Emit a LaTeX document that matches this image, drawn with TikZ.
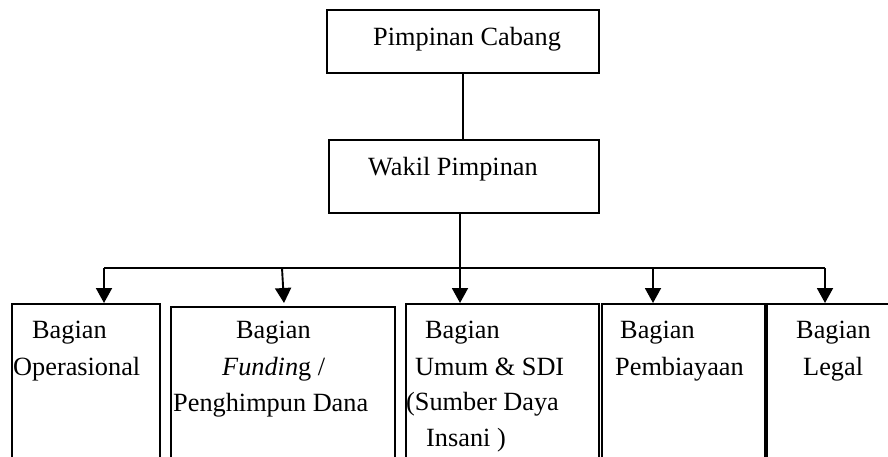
\documentclass[tikz,border=0pt]{standalone}
\usepackage{fontspec}
\setmainfont{Liberation Serif}
\usetikzlibrary{arrows.meta}
\begin{document}
\begin{tikzpicture}[x=1pt,y=-1pt,
  box/.style={draw=black,line width=1.6pt,rectangle,inner sep=0pt,anchor=north west},
  lbl/.style={inner sep=0pt,anchor=base west,font=\fontsize{26.3}{36}\selectfont},
  conn/.style={line width=1.9pt},
  arr/.style={line width=1.9pt,-{Triangle[length=15pt,width=16pt]}}]
\useasboundingbox (0,0) rectangle (888,456);
\clip (0,0) rectangle (888,456);
% top boxes
\node[box,minimum width=272,minimum height=63] (top) at (326,9) {};
\node[box,minimum width=270,minimum height=73] (wakil) at (328,139) {};
\node[lbl] (ttop) at (373,45) {Pimpinan Cabang};
\node[lbl] (twakil) at (368,175) {Wakil Pimpinan};
% bottom boxes
\node[box,minimum width=148,minimum height=200] (b1) at (11,303) {};
\node[box,minimum width=224,minimum height=200] (b2) at (170,306) {};
\node[box,minimum width=193,minimum height=200] (b3) at (405,303) {};
\node[box,minimum width=163,minimum height=200] (b4) at (601,303) {};
\node[box,minimum width=140,minimum height=200] (b5) at (766,303) {};
% labels
\node[lbl] (t1a) at (32,338) {Bagian};
\node[lbl] (t1b) at (13,375) {Operasional};
\node[lbl] (t2a) at (236,338) {Bagian};
\node[lbl] (t2b) at (222,375) {\textit{Fundin}g /};
\node[lbl] (t2c) at (173,411) {Penghimpun Dana};
\node[lbl] (t3a) at (425,338) {Bagian};
\node[lbl] (t3b) at (415,375) {Umum \& SDI};
\node[lbl] (t3c) at (406,410) {(Sumber Daya};
\node[lbl] (t3d) at (426,446) {Insani )};
\node[lbl] (t4a) at (620,338) {Bagian};
\node[lbl] (t4b) at (615,375) {Pembiayaan};
\node[lbl] (t5a) at (796,338) {Bagian};
\node[lbl] (t5b) at (803,375) {Legal};
% connectors
\coordinate (hl) at (104,268);
\coordinate (hr) at (825,268);
\coordinate (a1) at (104,303);
\coordinate (a2s) at (282,268);
\coordinate (a2) at (284,303);
\coordinate (a3) at (460,303);
\coordinate (a4) at (653,303);
\coordinate (a5) at (825,303);
\draw[conn] (top.south) -- (top.south |- wakil.north);
\draw[conn] (wakil.south -| a3) -- (a3 |- hl);
\draw[conn] (hl) -- (hr);
\draw[arr] (hl) -- (a1);
\draw[arr] (a2s) -- (a2);
\draw[arr] (a3 |- hl) -- (a3);
\draw[arr] (a4 |- hl) -- (a4);
\draw[arr] (hr) -- (a5);
\end{tikzpicture}
\end{document}
